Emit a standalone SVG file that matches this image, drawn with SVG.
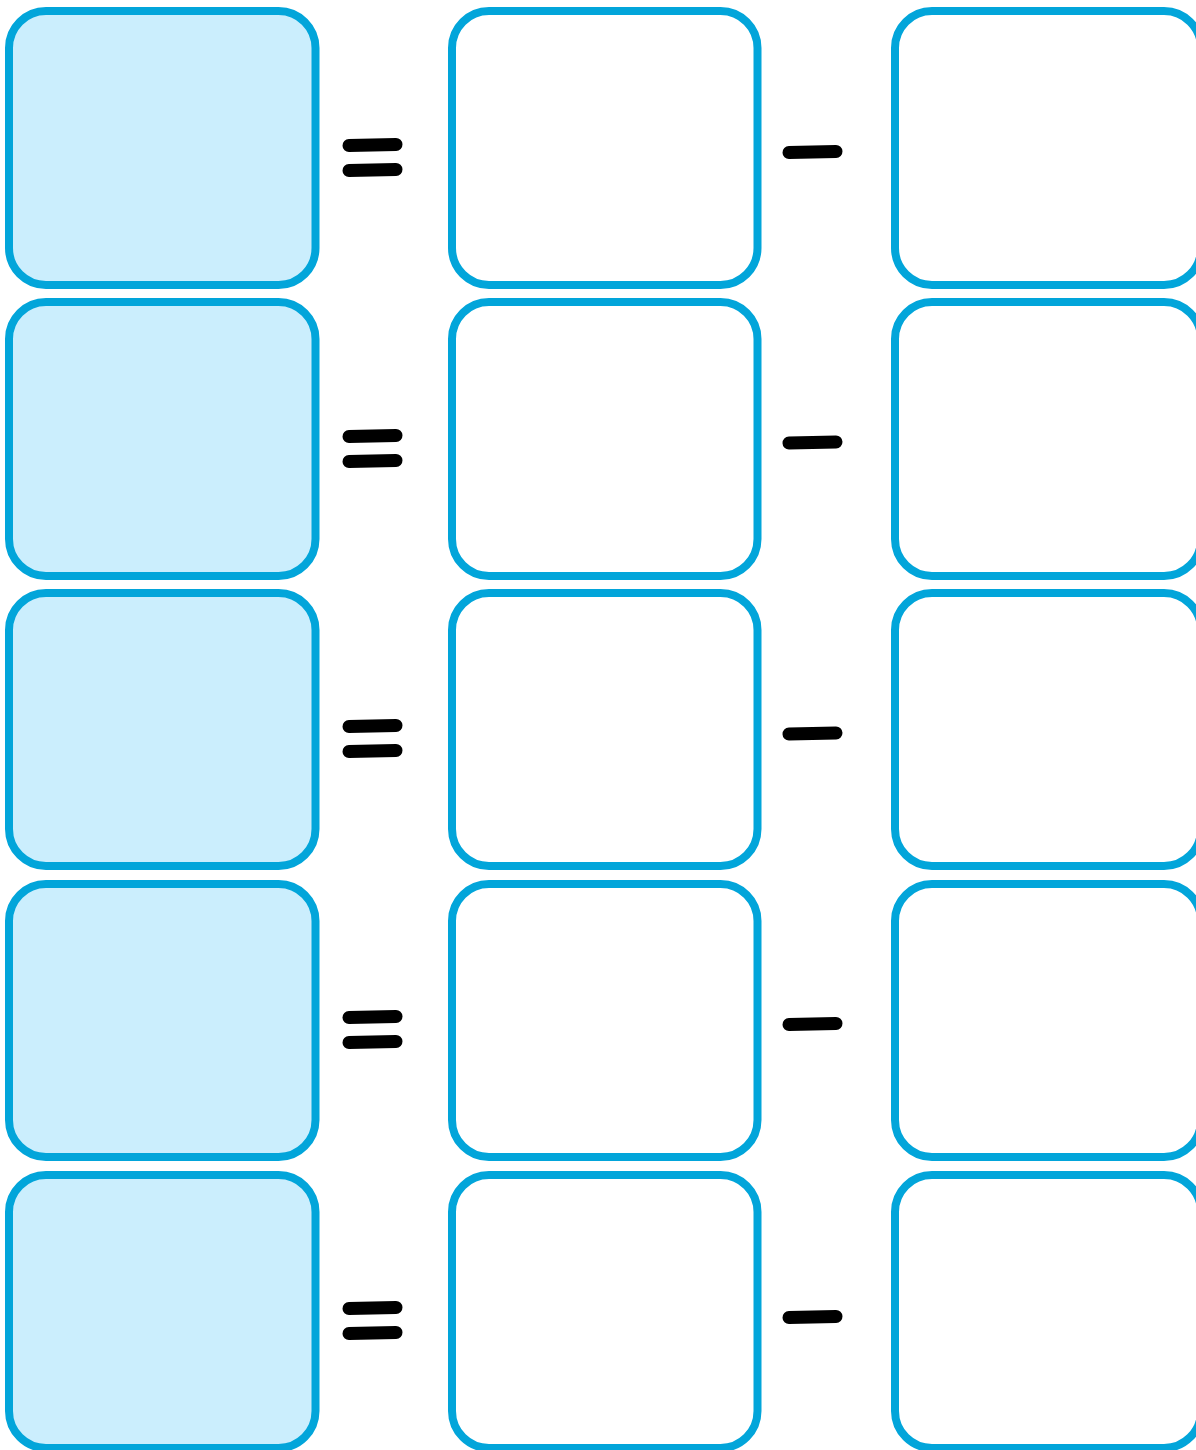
<svg xmlns="http://www.w3.org/2000/svg" width="1196" height="1450" viewBox="0 0 1196 1450">
<defs>
<style>
.box{fill:#ffffff;stroke:#02a5da;stroke-width:8}
.box.lhs{fill:#cbeefd}
.op{stroke:#000000;stroke-width:13;stroke-linecap:round;fill:none}
</style>
</defs>
<rect width="1196" height="1450" fill="#ffffff"/>
<g id="row1">
<g id="box-r1-c1"><rect class="box lhs" x="9" y="11" width="306.5" height="274" rx="37"/></g>
<g id="eq-r1"><line class="op" x1="349" y1="145.5" x2="396" y2="144.5"/><line class="op" x1="349" y1="170.5" x2="396" y2="169.5"/></g>
<g id="box-r1-c2"><rect class="box" x="452" y="11" width="305.5" height="274" rx="37"/></g>
<g id="minus-r1"><line class="op" x1="789" y1="152.5" x2="836" y2="151.5"/></g>
<g id="box-r1-c3"><rect class="box" x="895" y="11" width="306" height="274" rx="37"/></g>
</g>
<g id="row2">
<g id="box-r2-c1"><rect class="box lhs" x="9" y="302" width="306.5" height="274" rx="37"/></g>
<g id="eq-r2"><line class="op" x1="349" y1="436.5" x2="396" y2="435.5"/><line class="op" x1="349" y1="461.5" x2="396" y2="460.5"/></g>
<g id="box-r2-c2"><rect class="box" x="452" y="302" width="305.5" height="274" rx="37"/></g>
<g id="minus-r2"><line class="op" x1="789" y1="443" x2="836" y2="442"/></g>
<g id="box-r2-c3"><rect class="box" x="895" y="302" width="306" height="274" rx="37"/></g>
</g>
<g id="row3">
<g id="box-r3-c1"><rect class="box lhs" x="9" y="593" width="306.5" height="273" rx="37"/></g>
<g id="eq-r3"><line class="op" x1="349" y1="726.5" x2="396" y2="725.5"/><line class="op" x1="349" y1="751.5" x2="396" y2="750.5"/></g>
<g id="box-r3-c2"><rect class="box" x="452" y="593" width="305.5" height="273" rx="37"/></g>
<g id="minus-r3"><line class="op" x1="789" y1="734" x2="836" y2="733"/></g>
<g id="box-r3-c3"><rect class="box" x="895" y="593" width="306" height="273" rx="37"/></g>
</g>
<g id="row4">
<g id="box-r4-c1"><rect class="box lhs" x="9" y="884" width="306.5" height="273" rx="37"/></g>
<g id="eq-r4"><line class="op" x1="349" y1="1017.5" x2="396" y2="1016.5"/><line class="op" x1="349" y1="1042.5" x2="396" y2="1041.5"/></g>
<g id="box-r4-c2"><rect class="box" x="452" y="884" width="305.5" height="273" rx="37"/></g>
<g id="minus-r4"><line class="op" x1="789" y1="1024.5" x2="836" y2="1023.5"/></g>
<g id="box-r4-c3"><rect class="box" x="895" y="884" width="306" height="273" rx="37"/></g>
</g>
<g id="row5">
<g id="box-r5-c1"><rect class="box lhs" x="9" y="1175" width="306.5" height="273" rx="37"/></g>
<g id="eq-r5"><line class="op" x1="349" y1="1308.5" x2="396" y2="1307.5"/><line class="op" x1="349" y1="1333.5" x2="396" y2="1332.5"/></g>
<g id="box-r5-c2"><rect class="box" x="452" y="1175" width="305.5" height="273" rx="37"/></g>
<g id="minus-r5"><line class="op" x1="789" y1="1317.5" x2="836" y2="1316.5"/></g>
<g id="box-r5-c3"><rect class="box" x="895" y="1175" width="306" height="273" rx="37"/></g>
</g>
<g id="connectors"></g>
</svg>
